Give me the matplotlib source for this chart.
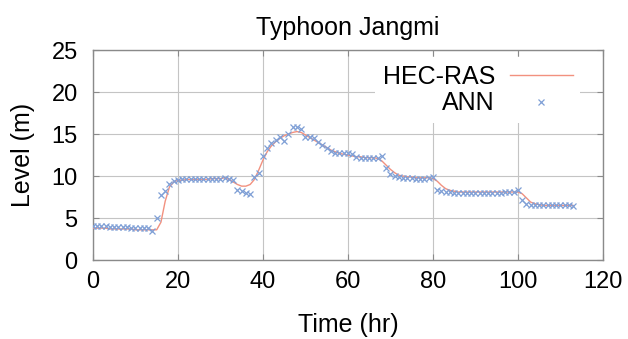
import numpy as np
import matplotlib
matplotlib.use("Agg")
from matplotlib import pyplot as plt

plt.rcParams['font.family'] = ['Liberation Sans', 'DejaVu Sans']

# hourly time axis
hours = list(range(0, 114))

# ANN predictions (m)
ann = [4.0, 4.0, 4.0, 4.0, 3.9, 3.9, 3.9, 3.9, 3.9, 3.8, 3.8, 3.8, 3.8, 3.8,   # 0-13
       3.4, 5.0, 7.8, 8.2, 9.1, 9.4,                                             # 14-19
       9.5, 9.6, 9.6, 9.6, 9.6, 9.6, 9.6, 9.6, 9.6, 9.7, 9.7, 9.8,               # 20-31
       9.6, 9.5, 8.4, 8.2, 8.0, 7.9, 9.9, 10.4,                                  # 32-39
       12.4, 13.3, 13.9, 14.3, 14.6, 14.2, 15.0, 15.8, 15.9, 15.6,               # 40-49
       14.7, 14.6, 14.5, 14.1, 13.7, 13.3, 13.0, 12.8, 12.7, 12.7,               # 50-59
       12.7, 12.6, 12.3, 12.2, 12.2, 12.2, 12.1, 12.1, 12.4, 11.0,               # 60-69
       10.2, 10.0, 9.9, 9.8, 9.8, 9.8, 9.7, 9.7, 9.7, 9.8,                      # 70-79
       9.9, 8.3, 8.2, 8.1, 8.1, 8.0, 8.0, 8.0, 8.0, 8.0,                        # 80-89
       8.0, 8.0, 8.0, 8.0, 8.0, 8.0, 8.0, 8.1, 8.1, 8.1,                        # 90-99
       8.4, 7.1, 6.7, 6.6, 6.6, 6.5, 6.5, 6.5, 6.5, 6.5,                        # 100-109
       6.5, 6.5, 6.5, 6.4]                                                       # 110-113

# HEC-RAS simulation (m)
hec = [3.8, 3.8, 3.8, 3.8, 3.7, 3.7, 3.7, 3.7, 3.7, 3.7,                        # 0-9
       3.6, 3.6, 3.6, 3.6, 3.6, 3.6, 4.5, 7.0, 8.7, 9.3,                        # 10-19
       9.5, 9.5, 9.6, 9.6, 9.6, 9.6, 9.6, 9.6, 9.7, 9.7,                        # 20-29
       9.7, 9.8, 9.6, 9.3, 9.0, 8.8, 8.8, 9.0, 9.6, 10.7,                       # 30-39
       11.9, 12.9, 13.6, 14.1, 14.5, 14.8, 15.0, 15.2, 15.3, 15.2,              # 40-49
       14.9, 14.6, 14.3, 14.0, 13.7, 13.4, 13.1, 12.9, 12.7, 12.6,              # 50-59
       12.5, 12.4, 12.3, 12.3, 12.2, 12.2, 12.2, 12.1, 11.8, 11.3,              # 60-69
       10.8, 10.4, 10.1, 10.0, 9.9, 9.9, 9.8, 9.8, 9.8, 9.8,                    # 70-79
       9.7, 9.4, 8.9, 8.5, 8.3, 8.2, 8.1, 8.1, 8.1, 8.1,                        # 80-89
       8.1, 8.1, 8.1, 8.1, 8.1, 8.1, 8.1, 8.1, 8.1, 8.1,                        # 90-99
       8.1, 7.9, 7.4, 6.9, 6.7, 6.6, 6.5, 6.5, 6.5, 6.5,                        # 100-109
       6.5, 6.5, 6.5, 6.5]                                                       # 110-113

xticks = [0, 20, 40, 60, 80, 100, 120]
yticks = [0, 5, 10, 15, 20, 25]

assert len(ann) == len(hours) and len(hec) == len(hours)

fig = plt.figure(figsize=(6.28, 3.39), dpi=100)
ax = fig.add_axes([0.148, 0.233, 0.812, 0.619])

ax.plot(hours, hec, color='#f2917f', lw=1.0, label='HEC-RAS', zorder=3)
ax.plot(hours, ann, ls='none', marker='x', ms=4.5, mew=0.9, color='#7f9fd6',
        label='ANN', zorder=4)

ax.set_xlim(0, 120)
ax.set_ylim(0, 25)
ax.set_xticks(xticks)
ax.set_yticks(yticks)
ax.grid(True, color='#c4c4c4', lw=0.8)
ax.set_axisbelow(True)
for s in ax.spines.values():
    s.set_color('#8a8a8a')
    s.set_linewidth(1.0)
ax.tick_params(direction='in', length=4, color='#8a8a8a', labelsize=17,
               top=True, right=True)
ax.tick_params(axis='y', pad=11)
ax.tick_params(axis='x', pad=8)

ax.set_title('Typhoon Jangmi', fontsize=18, pad=11)
ax.set_xlabel('Time (hr)', fontsize=18, labelpad=14)
ax.set_ylabel('Level (m)', fontsize=18, labelpad=12)

# gnuplot-style key: text on the left, sample on the right
leg = ax.legend(loc='upper right', markerfirst=False, fontsize=18,
                handlelength=2.5, handletextpad=0.6, labelspacing=0.1,
                borderpad=0.3, borderaxespad=0.2, fancybox=False,
                framealpha=1.0, bbox_to_anchor=(0.965, 0.99))
leg.get_frame().set_edgecolor('none')
leg.get_frame().set_facecolor('white')

fig.savefig('out.png', dpi=100)
